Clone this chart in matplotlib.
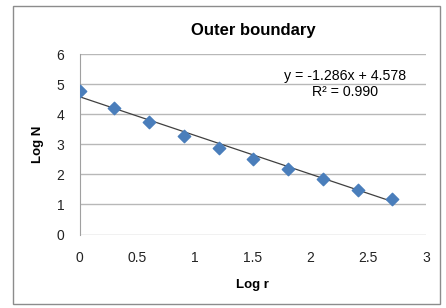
from matplotlib import pyplot as plt
from matplotlib.patches import Rectangle
import numpy as np

# data
log_r = [0, 0.301, 0.602, 0.903, 1.204, 1.505, 1.806, 2.107, 2.408, 2.709]
log_n = [4.78, 4.22, 3.73, 3.26, 2.88, 2.52, 2.17, 1.85, 1.49, 1.19]
slope = -1.286
intercept = 4.578
r2 = 0.990

plt.rcParams['font.family'] = ['Liberation Sans', 'DejaVu Sans']

fig = plt.figure(figsize=(4.46, 3.08), dpi=100)
fig.patches.append(Rectangle((13 / 446, 4 / 308), 427 / 446, 298 / 308,
                             transform=fig.transFigure, fill=False,
                             edgecolor='#8c8c8c', linewidth=1.0))

ax = fig.add_axes([79.7 / 446, 1 - 234.5 / 308, (426 - 79.7) / 446, (234.5 - 54) / 308])

xs = np.array([0, log_r[-1]])
ax.plot(xs, slope * xs + intercept, color='#404040', linewidth=0.9, zorder=2)
ax.scatter(log_r, log_n, marker='D', s=40, color='#4a7ebb', edgecolors='#4a7ebb', zorder=3)

ax.set_xlim(0, 3)
ax.set_ylim(0, 6)
ax.set_xticks([0, 0.5, 1, 1.5, 2, 2.5, 3])
ax.set_xticklabels(['0', '0.5', '1', '1.5', '2', '2.5', '3'])
ax.set_yticks(range(7))
ax.grid(axis='y', color='#b8b8b8', linewidth=1.0)
ax.set_axisbelow(True)
for s in ['top', 'right', 'bottom']:
    ax.spines[s].set_visible(False)
ax.spines['left'].set_color('#a0a0a0')
ax.tick_params(length=0, labelsize=10, colors='#222222')
ax.tick_params(axis='y', pad=11)
ax.tick_params(axis='x', pad=12)

ax.set_title('Outer boundary', fontsize=12, fontweight='bold', pad=14)
ax.set_xlabel('Log r', fontsize=9.5, fontweight='bold', labelpad=10)
ax.set_ylabel('Log N', fontsize=9.5, fontweight='bold', labelpad=9)

eq = 'y = %.3fx + %.3f\nR² = %.3f' % (slope, intercept, r2)
ax.text(0.942, 0.834, eq, transform=ax.transAxes, ha='right', va='center', fontsize=10.2,
        multialignment='center', linespacing=1.1)

fig.savefig('out.png', dpi=100)
